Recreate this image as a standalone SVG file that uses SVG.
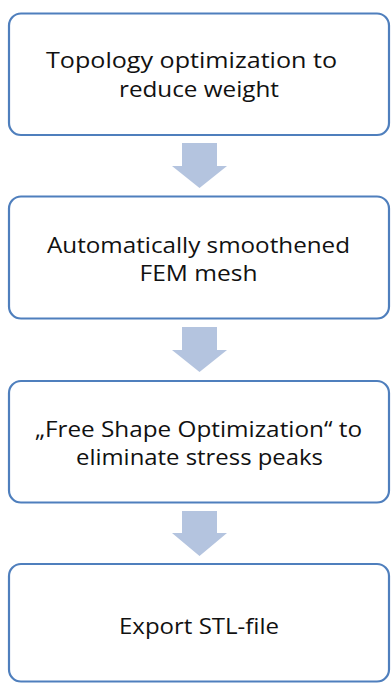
<svg xmlns="http://www.w3.org/2000/svg" width="392" height="683" viewBox="0 0 392 683">
<style>
.box{fill:#ffffff;stroke:#4f7fbd;stroke-width:2.2}
.lbl{font-family:"Open Sans","Liberation Sans",sans-serif;font-size:22px;fill:#111111}
.arr{fill:#b4c4df}
</style>
<rect width="392" height="683" fill="#ffffff"/>
<g id="connectors">
<polygon class="arr" points="182,143 217,143 217,166 227,166 199.5,188 172,166 182,166"/>
<polygon class="arr" points="182,327 217,327 217,350 227,350 199.5,372 172,350 182,350"/>
<polygon class="arr" points="182,511 217,511 217,533 227,533 199.5,556 172,533 182,533"/>
</g>
<g id="node1">
<rect class="box" x="9" y="13.5" width="380" height="121.5" rx="12"/>
<text class="lbl" x="46" y="68" textLength="291" lengthAdjust="spacingAndGlyphs">Topology optimization to</text>
<text class="lbl" x="119" y="96.5" textLength="160" lengthAdjust="spacingAndGlyphs">reduce weight</text>
</g>
<g id="node2">
<rect class="box" x="9" y="196.5" width="380" height="122" rx="12"/>
<text class="lbl" x="47" y="252.5" textLength="303" lengthAdjust="spacingAndGlyphs">Automatically smoothened</text>
<text class="lbl" x="139.5" y="280.5" textLength="118" lengthAdjust="spacingAndGlyphs">FEM mesh</text>
</g>
<g id="node3">
<rect class="box" x="9" y="381" width="380" height="121.5" rx="12"/>
<text class="lbl" x="35" y="436.5" textLength="327" lengthAdjust="spacingAndGlyphs">„Free Shape Optimization“ to</text>
<text class="lbl" x="76" y="464.5" textLength="247" lengthAdjust="spacingAndGlyphs">eliminate stress peaks</text>
</g>
<g id="node4">
<rect class="box" x="9" y="564" width="380" height="117.5" rx="12"/>
<text class="lbl" x="119" y="634" textLength="160" lengthAdjust="spacingAndGlyphs">Export STL-file</text>
</g>
</svg>
